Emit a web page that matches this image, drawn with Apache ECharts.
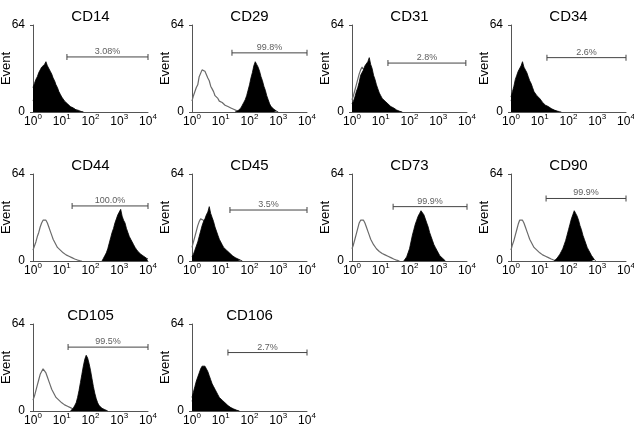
<!DOCTYPE html>
<html>
<head>
<meta charset="utf-8">
<script src="https://cdn.jsdelivr.net/npm/echarts@6/dist/echarts.min.js"></script>
<style>
  html, body { margin: 0; padding: 0; background: #fff; }
  #chart { width: 634px; height: 428px; }
</style>
</head>
<body>
<div id="chart"></div>
<script>
// fluorescence channels, in decades (10^0 .. 10^4)
const channels = [0, 0.05, 0.1, 0.15, 0.2, 0.25, 0.3, 0.35, 0.4, 0.45,
  0.5, 0.55, 0.6, 0.65, 0.7, 0.75, 0.8, 0.85, 0.9, 0.95,
  1, 1.05, 1.1, 1.15, 1.2, 1.25, 1.3, 1.35, 1.4, 1.45,
  1.5, 1.55, 1.6, 1.65, 1.7, 1.75, 1.8, 1.85, 1.9, 1.95,
  2, 2.05, 2.1, 2.15, 2.2, 2.25, 2.3, 2.35, 2.4, 2.45,
  2.5, 2.55, 2.6, 2.65, 2.7, 2.75, 2.8, 2.85, 2.9, 2.95,
  3, 3.05, 3.1, 3.15, 3.2, 3.25, 3.3, 3.35, 3.4, 3.45,
  3.5, 3.55, 3.6, 3.65, 3.7, 3.75, 3.8, 3.85, 3.9, 3.95, 4];
const xTicks = [0, 1, 2, 3, 4];

const markers = ['CD14', 'CD29', 'CD31', 'CD34', 'CD44', 'CD45', 'CD73', 'CD90', 'CD105', 'CD106'];
const percents = ['3.08%', '99.8%', '2.8%', '2.6%', '100.0%', '3.5%', '99.9%', '99.9%', '99.5%', '2.7%'];
const gateFrom = [1.18, 1.39, 1.25, 1.25, 1.36, 1.32, 1.43, 1.22, 1.22, 1.25];
const gateTo = [4, 4, 3.96, 4, 4, 4, 4, 4, 4, 4];
const gateLevel = [40.5, 43.5, 36, 40, 40.5, 37.5, 40, 46, 47, 43];

// stained sample counts (first value sits at channel index stainFrom[k])
const cd14Stain = [18, 21, 24, 26, 29, 31, 33, 32, 35, 37, 34, 34, 30, 28, 25, 23, 20, 18, 15, 13, 11, 10, 8, 7, 6, 5, 4, 4, 3, 2, 1.5, 1, 0.7, 0.4, 0.2, 0];
const cd29Stain = [0, 0.5, 1, 2, 3, 5, 7, 9, 12, 16, 20, 25, 29, 34, 37, 35, 33, 30, 26, 23, 19, 16, 12, 9, 6, 4, 3, 2, 1, 0.5, 0];
const cd31Stain = [6, 8, 11, 15, 18, 22, 27, 28, 31, 34, 35, 37, 40, 35, 32, 27, 24, 20, 17, 14, 12, 10, 9, 8, 7, 6, 5, 4, 3.5, 3, 2, 1.5, 1, 0.6, 0.3, 0];
const cd34Stain = [11, 15, 19, 24, 27, 30, 31, 34, 37, 33, 32, 29, 26, 23, 21, 18, 15, 14, 12, 11, 10, 9, 7, 6, 5, 4.5, 4, 3, 2.5, 2, 1.5, 1, 0.7, 0.4, 0.2, 0];
const cd44Stain = [0, 2, 4, 6, 9, 13, 17, 21, 24, 28, 31, 34, 36, 38, 33, 30, 28, 24, 21, 18, 16, 14, 12, 10, 8.5, 7, 6, 5, 4, 3.5, 3, 2, 1.5];
const cd45Stain = [3, 5, 8, 11, 14, 18, 22, 26, 29, 31, 34, 36, 40, 35, 32, 29, 25, 22, 19, 16, 14, 12, 10, 9, 8, 7, 6, 5, 4, 3, 2.5, 2, 1.5, 1, 0.5, 0];
const cd73Stain = [0, 1, 3, 6, 9, 14, 19, 23, 27, 30, 33, 35, 37, 36, 34, 31, 28, 25, 21, 18, 15, 12, 10, 8, 6, 4, 3, 2, 1, 0];
const cd90Stain = [0, 1, 2, 3, 5, 7, 9, 12, 15, 19, 23, 27, 31, 34, 37, 36, 33, 30, 26, 23, 19, 16, 13, 10, 8, 6, 4, 2.5, 1, 0];
const cd105Stain = [0, 1, 2, 4, 6, 10, 15, 21, 27, 33, 38, 41, 39, 35, 30, 24, 18, 13, 9, 6, 4, 3, 2, 1.5, 1, 0.5, 0];
const cd106Stain = [10, 14, 18, 22, 25, 28, 31, 33, 34, 33, 31, 29, 26, 23, 20, 18, 16, 14, 12, 10, 9, 8, 7, 6, 5, 4, 3, 2.5, 2, 1.5, 1, 0.6, 0.3, 0];
const stainFrom = [0, 30, 0, 0, 48, 0, 36, 30, 26, 0];

// isotype control counts (start at channel 0)
const cd14Ctrl = [8, 11, 14, 17, 21, 25, 28, 30, 31, 30, 28, 25, 22, 19, 17, 15, 13, 11, 10, 9, 8, 7, 6, 5, 5, 4, 4, 3, 3, 2, 2, 1.5, 1, 0.5, 0.3, 0];
const cd29Ctrl = [8, 12, 13, 18, 20, 26, 27, 31, 32, 30, 29, 25, 23, 19, 17, 15, 12, 11, 10, 8, 8, 7, 6, 5, 5, 4, 4, 3, 3, 2, 2, 1, 1, 0.5, 0.3, 0];
const cd31Ctrl = [9, 12, 16, 20, 24, 28, 31, 33, 32, 30, 27, 24, 20, 17, 15, 13, 11, 10, 9, 8, 7, 6, 5, 4.5, 4, 3.5, 3, 2.5, 2, 1.5, 1, 0.7, 0.4, 0.2, 0];
const cd34Ctrl = [8, 11, 15, 19, 23, 27, 29, 31, 31, 29, 27, 24, 21, 18, 16, 14, 12, 11, 9, 8, 7, 6, 5.5, 5, 4, 3.5, 3, 2.5, 2, 1.5, 1, 0.6, 0.3, 0];
const cd44Ctrl = [8, 11, 14, 18, 21, 25, 28, 30, 31, 30, 28, 25, 22, 19, 16, 14, 12, 10, 9, 8, 7, 6, 5, 4.5, 4, 3.5, 3, 2.5, 2, 1.5, 1, 0.7, 0.4, 0.2, 0];
const cd45Ctrl = [10, 14, 18, 22, 26, 29, 31, 31, 30, 28, 25, 22, 19, 16, 14, 12, 10, 9, 8, 7, 6, 5, 4.5, 4, 3.5, 3, 2.5, 2, 1.5, 1, 0.6, 0.3, 0];
const cd73Ctrl = [9, 12, 16, 20, 24, 28, 30, 31, 30, 28, 25, 22, 19, 16, 14, 12, 11, 9, 8, 7, 6, 5.5, 5, 4.5, 4, 3.5, 3, 2.5, 2, 1.5, 1, 0.6, 0.3, 0];
const cd90Ctrl = [8, 12, 15, 19, 23, 27, 30, 31, 30, 28, 25, 22, 19, 16, 14, 12, 10, 9, 8, 7, 6, 5, 4.5, 4, 3.5, 3, 2.5, 2, 1.5, 1, 0.6, 0.3, 0];
const cd105Ctrl = [8, 11, 15, 19, 23, 27, 29, 31, 30, 28, 25, 22, 19, 16, 14, 12, 10, 9, 8, 7, 6, 5, 4.5, 4, 3.5, 3, 2.5, 2, 1.5, 1, 0.6, 0.3, 0];
const cd106Ctrl = [7, 10, 14, 18, 22, 26, 28, 30, 30, 28, 26, 23, 20, 17, 15, 13, 11, 10, 9, 8, 7, 6, 5, 4.5, 4, 3, 2.5, 2, 1.5, 1, 0.6, 0.3, 0];

const stains = [cd14Stain, cd29Stain, cd31Stain, cd34Stain, cd44Stain, cd45Stain, cd73Stain, cd90Stain, cd105Stain, cd106Stain];
const ctrls = [cd14Ctrl, cd29Ctrl, cd31Ctrl, cd34Ctrl, cd44Ctrl, cd45Ctrl, cd73Ctrl, cd90Ctrl, cd105Ctrl, cd106Ctrl];

// layout of the 4 x 3 panel grid
const colLeft = [33, 192, 352, 511];
const rowTop = [25, 174, 324];
const plotW = 115, plotH = 87;

const chart = echarts.init(document.getElementById('chart'));
const grids = [], xAxes = [], yAxes = [], titles = [], series = [];

markers.forEach(function (name, k) {
    const c = k % 4, r = Math.floor(k / 4);
    grids.push({
        left: colLeft[c], top: rowTop[r], width: plotW, height: plotH,
        outerBoundsMode: 'none', containLabel: false
    });
    titles.push({
        text: name, left: colLeft[c] + plotW / 2, top: rowTop[r] - 16, textAlign: 'center', padding: 0,
        textStyle: { fontSize: 15, fontWeight: 'normal', color: '#000', fontFamily: 'Liberation Sans' }
    });
    xAxes.push({
        gridIndex: k, type: 'value', min: 0, max: 4, interval: 1,
        axisLine: { show: true, lineStyle: { color: '#555', width: 1 } },
        axisTick: { show: false },
        splitLine: { show: false },
        axisLabel: {
            margin: 1,
            formatter: function (v) { return xTicks.indexOf(v) >= 0 ? '{b|10}{s|' + v + '}' : ''; },
            rich: {
                b: { fontSize: 12, lineHeight: 18, color: '#000', fontFamily: 'Liberation Sans' },
                s: { fontSize: 8, lineHeight: 8, verticalAlign: 'top', color: '#000', fontFamily: 'Liberation Sans' }
            }
        }
    });
    yAxes.push({
        gridIndex: k, type: 'value', min: 0, max: 64, interval: 64,
        name: 'Event', nameLocation: 'middle', nameGap: 20, nameMoveOverlap: false,
        nameTextStyle: { fontSize: 13, color: '#000', fontFamily: 'Liberation Sans' },
        axisLine: { show: true, lineStyle: { color: '#555', width: 1 } },
        axisTick: { show: true, length: 3, lineStyle: { color: '#555' } },
        splitLine: { show: false },
        axisLabel: { fontSize: 12, color: '#000', margin: 8, fontFamily: 'Liberation Sans' }
    });
    // control drawn first so the stained histogram covers it where they overlap
    series.push({
        type: 'line', xAxisIndex: k, yAxisIndex: k, symbol: 'none', silent: true, z: 2,
        data: ctrls[k].map(function (v, i) { return [channels[i], v]; }),
        lineStyle: { color: '#6a6a6a', width: 1.2 }
    });
    series.push({
        type: 'line', xAxisIndex: k, yAxisIndex: k, symbol: 'none', silent: true, z: 3,
        data: stains[k].map(function (v, i) { return [channels[stainFrom[k] + i], v]; }),
        lineStyle: { color: '#000', width: 0.8 },
        areaStyle: { color: '#000', opacity: 1 }
    });
    series.push({
        type: 'line', xAxisIndex: k, yAxisIndex: k, silent: true, z: 4,
        symbol: 'rect', symbolSize: [1, 6],
        itemStyle: { color: '#444' },
        lineStyle: { color: '#444', width: 1 },
        data: [[gateFrom[k], gateLevel[k]], [gateTo[k], gateLevel[k]]]
    });
    series.push({
        type: 'scatter', xAxisIndex: k, yAxisIndex: k, silent: true, z: 4, symbolSize: 0,
        data: [[(gateFrom[k] + gateTo[k]) / 2, gateLevel[k]]],
        label: {
            show: true, position: 'top', distance: 1, formatter: percents[k],
            fontSize: 9, color: '#333', fontFamily: 'Liberation Sans'
        }
    });
});

chart.setOption({
    animation: false,
    backgroundColor: '#fff',
    textStyle: { fontFamily: 'Liberation Sans' },
    title: titles,
    grid: grids,
    xAxis: xAxes,
    yAxis: yAxes,
    series: series
});
</script>
</body>
</html>
